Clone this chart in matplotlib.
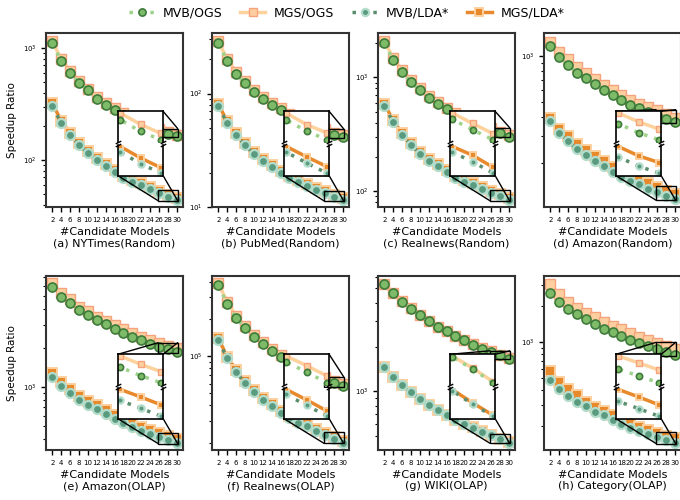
import matplotlib
matplotlib.use("Agg")
import matplotlib.pyplot as plt
from matplotlib.patches import Rectangle, ConnectionPatch
from matplotlib.lines import Line2D

# number of candidate models (x axis)
x_models = [2, 4, 6, 8, 10, 12, 14, 16, 18, 20, 22, 24, 26, 28, 30]

titles = ["(a) NYTimes(Random)", "(b) PubMed(Random)", "(c) Realnews(Random)",
          "(d) Amazon(Random)", "(e) Amazon(OLAP)", "(f) Realnews(OLAP)",
          "(g) WIKI(OLAP)", "(h) Category(OLAP)"]

series_names = ["MVB/OGS", "MGS/OGS", "MVB/LDA*", "MGS/LDA*"]

# speedup ratios, one row per panel (a)..(h)
mvb_ogs = [
    [1100, 770, 600, 490, 417, 352, 312, 279, 250, 228, 210, 195, 182, 170, 162],
    [277, 195, 150, 123, 103, 89, 79, 71, 64, 58.5, 54, 50, 46.5, 43.5, 41.3],
    [2020, 1420, 1107, 910, 768, 656, 581, 521, 470, 430, 397, 368, 342, 320, 300],
    [1168, 980, 873, 778, 714, 653, 600, 553, 515, 480, 455, 433, 411, 387, 369],
    [5920, 4910, 4393, 3900, 3596, 3270, 3025, 2803, 2612, 2432, 2290, 2148, 2037, 1942, 1864],
    [376000, 267000, 205000, 170000, 144000, 125000, 110000, 98000, 90000, 83000, 76000, 70000, 65000, 61000, 57000],
    [5320, 4625, 4058, 3636, 3274, 2995, 2742, 2546, 2366, 2213, 2078, 1951, 1863, 1769, 1667],
    [2558, 2178, 1900, 1702, 1545, 1422, 1298, 1208, 1134, 1050, 985, 922, 877, 828, 780],
]
mgs_ogs = [
    [1144, 800, 624, 510, 434, 366, 324, 290, 260, 237, 218, 203, 189, 177, 168],
    [288, 203, 156, 128, 107, 92.5, 82, 74, 66.5, 61, 56, 52, 48.4, 45.2, 43],
    [2100, 1477, 1150, 946, 799, 682, 604, 542, 489, 447, 413, 383, 356, 333, 312],
    [1240, 1057, 951, 851, 771, 705, 645, 595, 553, 516, 489, 465, 441, 416, 396],
    [6270, 5250, 4720, 4150, 3830, 3480, 3220, 2985, 2780, 2590, 2440, 2290, 2170, 2070, 1985],
    [390000, 277000, 213000, 177000, 150000, 130000, 114500, 102000, 93500, 86000, 79000, 73000, 67500, 63500, 59500],
    [5330, 4640, 4070, 3650, 3285, 3005, 2752, 2556, 2375, 2222, 2086, 1960, 1871, 1777, 1675],
    [3042, 2510, 2178, 1937, 1759, 1610, 1468, 1362, 1276, 1180, 1105, 1033, 981, 925, 870],
]
mvb_lda = [
    [303, 215, 167, 136, 115, 100, 88, 78, 69, 64, 60, 55, 51, 47, 44],
    [78, 55, 43, 35, 29.4, 25.7, 22.4, 20, 18, 16.6, 15.3, 14.2, 13.2, 12.3, 11.5],
    [562, 403, 309, 253, 213, 185, 165, 146, 131, 120, 112, 103, 96, 90, 83],
    [373, 313, 278, 245, 225, 206, 191, 175, 163, 152, 145, 136, 130, 122, 116],
    [1194, 1010, 899, 798, 732, 676, 619, 567, 528, 491, 462, 436, 411, 392, 373],
    [135000, 96000, 74600, 60800, 51000, 44500, 39300, 34700, 31900, 29000, 27000, 24900, 23100, 21500, 20000],
    [1456, 1254, 1099, 985, 891, 811, 743, 687, 642, 602, 569, 534, 507, 476, 450],
    [484, 406, 355, 318, 293, 262, 243, 223, 207, 192, 180, 169, 160, 152, 144],
]
mgs_lda = [
    [320, 225, 175, 142, 120, 104, 92, 81, 72, 66.5, 62.3, 57.2, 53, 48.9, 45.7],
    [81, 57, 44.7, 36.4, 30.5, 26.7, 23.3, 20.8, 18.7, 17.3, 15.9, 14.8, 13.7, 12.8, 12],
    [585, 419, 321, 263, 222, 192, 172, 152, 136, 125, 116, 107, 100, 94, 86.5],
    [392, 333, 300, 266, 243, 222, 206, 189, 176, 164, 156, 147, 140, 131, 125],
    [1282, 1085, 965, 857, 785, 724, 663, 607, 565, 526, 494, 467, 440, 420, 400],
    [140000, 99500, 77500, 63000, 53000, 46000, 40700, 36000, 33000, 30000, 28000, 25800, 23900, 22300, 20700],
    [1462, 1260, 1104, 990, 895, 815, 747, 690, 645, 605, 572, 537, 510, 479, 452],
    [576, 463, 406, 360, 318, 288, 266, 244, 226, 210, 196, 184, 174, 165, 156],
]

# y limits of each panel
y_limits = [(38, 1360), (10, 342), (72, 2460), (103, 1413),
            (328, 7130), (17400, 447000), (401, 6050), (125, 3570)]

# styles
st_mvb_ogs = dict(color="#9fd38c", ls=(0, (1, 2)), lw=2.5, marker="o",
                  mfc="#7dbb69", mec="#3e7b3a", mew=1.2)
st_mgs_ogs = dict(color="#fdd29c", ls="-", lw=2.5, marker="s",
                  mfc="#fdcfa0", mec="#f5a37c", mew=1.0)
st_mvb_lda = dict(color="#5b8e6e", ls=(0, (1, 2)), lw=2.5, marker="o",
                  mfc="#5a9a7f", mec="#b4dccb", mew=1.6)
st_mgs_lda = dict(color="#e8892c", ls="-", lw=2.5, marker="s",
                  mfc="#e8892c", mec="#fdd0a0", mew=1.4)

X0, X1 = 25.8, 30.2


def draw_series(ax, i, ms_c, ms_s):
    ax.plot(x_models, mgs_ogs[i], ms=ms_s, **st_mgs_ogs)
    ax.plot(x_models, mvb_ogs[i], ms=ms_c, **st_mvb_ogs)
    ax.plot(x_models, mgs_lda[i], ms=ms_s, **st_mgs_lda)
    ax.plot(x_models, mvb_lda[i], ms=ms_c, **st_mvb_lda)


def zoom_limits(a, b):
    vals = a[-3:] + b[-3:]
    lo, hi = min(vals), max(vals)
    r = hi / lo
    return lo / r ** 0.09, hi * r ** 0.06


fig = plt.figure(figsize=(6.8, 5.0), dpi=100)
lefts = [46, 212, 378, 544]
bottoms = [293, 50]

for i in range(8):
    r, c = divmod(i, 4)
    ax = fig.add_axes([lefts[c] / 680, bottoms[r] / 500, 137 / 680, 174 / 500])
    draw_series(ax, i, 6.5, 7)
    ax.set_yscale("log")
    ax.set_ylim(*y_limits[i])
    ax.set_xticks(x_models)
    ax.tick_params(labelsize=5, width=1)
    ax.tick_params(which="minor", width=0.8)
    for s in ax.spines.values():
        s.set_linewidth(1.5)
        s.set_color("#333333")
    ax.set_xlabel("#Candidate Models\n" + titles[i], fontsize=8, labelpad=3)
    if c == 0:
        ax.set_ylabel("Speedup Ratio", fontsize=7.5)

    # broken zoom inset: top half for OGS, bottom half for LDA*
    top = ax.inset_axes([0.525, 0.372, 0.33, 0.178])
    bot = ax.inset_axes([0.525, 0.18, 0.33, 0.178])
    for ins, a, b, corners in [(top, mvb_ogs[i], mgs_ogs[i], [(0, 1), (1, 1)]),
                               (bot, mvb_lda[i], mgs_lda[i], [(0, 0), (1, 0)])]:
        draw_series(ins, i, 4.5, 4.5)
        ins.set_yscale("log")
        ins.set_xlim(X0, X1)
        lo, hi = zoom_limits(a, b)
        ins.set_ylim(lo, hi)
        ins.set_xticks([])
        ins.set_yticks([])
        ins.minorticks_off()
        ins.yaxis.set_minor_locator(plt.NullLocator())
        for s in ins.spines.values():
            s.set_linewidth(1.2)
            s.set_color("black")
        ax.add_patch(Rectangle((X0, lo), X1 - X0, hi - lo, fill=False,
                               ec="black", lw=1, zorder=2))
        for cx, cy in corners:
            con = ConnectionPatch(xyA=(cx, cy), coordsA=ins.transAxes,
                                  xyB=(X0 if cx == 0 else X1, lo if cy == 0 else hi),
                                  coordsB=ax.transData, color="black", lw=1, zorder=2)
            ax.add_artist(con)
    top.spines["bottom"].set_visible(False)
    bot.spines["top"].set_visible(False)
    kw = dict(marker=[(-1, -0.5), (1, 0.5)], markersize=4, linestyle="none",
              color="k", mec="k", mew=1, clip_on=False)
    top.plot([0, 1], [0, 0], transform=top.transAxes, **kw)
    bot.plot([0, 1], [1, 1], transform=bot.transAxes, **kw)

handles = [Line2D([], [], ms=6.5, **st_mvb_ogs), Line2D([], [], ms=7, **st_mgs_ogs),
           Line2D([], [], ms=6.5, **st_mvb_lda), Line2D([], [], ms=7, **st_mgs_lda)]
fig.legend(handles, series_names, loc="upper center", bbox_to_anchor=(0.51, 1.01),
           ncol=4, frameon=False, fontsize=9, handlelength=2.0, columnspacing=1.4,
           markerscale=0.8, handletextpad=0.7)

fig.savefig("out.png", dpi=100)
